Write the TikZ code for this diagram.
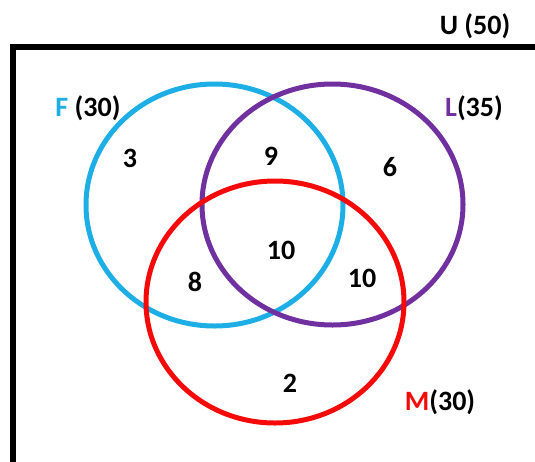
\documentclass[tikz,border=0pt]{standalone}
\usepackage{fontspec}
\setmainfont{Carlito}
\usetikzlibrary{shapes.geometric}
\definecolor{setF}{HTML}{1EAEE6}
\definecolor{setL}{HTML}{7030A0}
\definecolor{setM}{HTML}{F50A0A}
\begin{document}
\begin{tikzpicture}[x=1pt,y=-1pt,
  ring/.style={draw,ellipse,line width=5pt,inner sep=0pt},
  lbl/.style={font=\fontsize{28}{32}\selectfont\bfseries,inner sep=0pt},
  num/.style={font=\fontsize{28}{32}\selectfont\bfseries,inner sep=0pt}]
\useasboundingbox (0,0) rectangle (535,461);
\clip (0,0) rectangle (535,461);
% universe frame (runs past the right and bottom edges)
\draw[line width=5.5pt] (13,520) -- (13,47) -- (600,47);
% the three sets
\node[ring,setF,minimum width=257pt,minimum height=242pt] (F) at (214.5,205) {};
\node[ring,setL,minimum width=261pt,minimum height=241pt] (L) at (332.5,204.5) {};
\node[ring,setM,minimum width=258pt,minimum height=242pt] (M) at (275,302) {};
% set labels
\node[lbl] (U) at (475,26) {U (50)};
\node[lbl] (Fl) at (88,108) {\textcolor{setF}{F} (30)};
\node[lbl] (Ll) at (474,108) {\textcolor{setL}{L}(35)};
\node[lbl] (Ml) at (440,402) {\textcolor{setM}{M}(30)};
% region counts
\node[num] (n3) at (130,158) {3};
\node[num] (n9) at (271,156) {9};
\node[num] (n6) at (390,167) {6};
\node[num] (nFLM) at (281,250) {10};
\node[num] (nFM) at (195,282) {8};
\node[num] (nLM) at (362,278) {10};
\node[num] (nM) at (290,383) {2};
\end{tikzpicture}
\end{document}
